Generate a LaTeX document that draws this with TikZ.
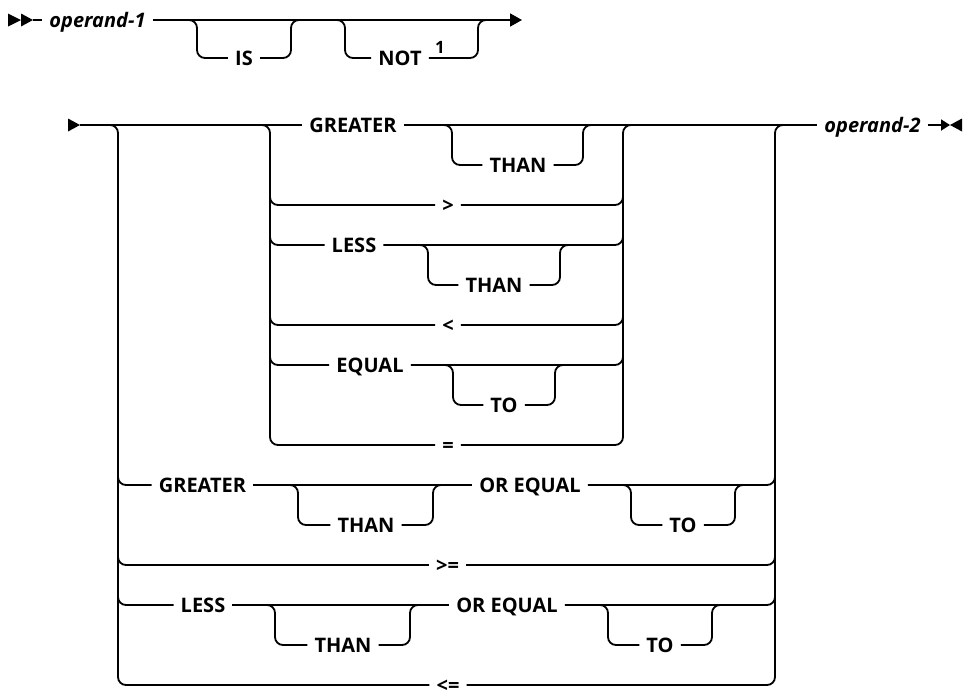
\documentclass[tikz,border=0pt]{standalone}
\usepackage{fontspec}
\newfontfamily\lblfont{Open Sans}
\usetikzlibrary{calc,arrows.meta}
\newcommand\obranch[3]{%
  \draw[br] ($(#1)+(-8,0)$) -- (#1) -- (#1 |- #3) -- (#3.west);
  \draw[br] (#3.east) -- (#2 |- #3) -- (#2) -- ($(#2)+(8,0)$);}
\newcommand\rowin[2]{\draw[br] ($(#1 |- #2)+(0,-8)$) -- (#1 |- #2) -- (#2.west);}
\newcommand\rowout[2]{\draw[br] (#2.east) -- (#1 |- #2) -- ($(#1 |- #2)+(0,-8)$);}
\begin{document}
\begin{tikzpicture}[x=1pt,y=-1pt,
  ln/.style={line width=1.8pt},
  br/.style={ln,rounded corners=8pt},
  kw/.style={font=\lblfont\bfseries\fontsize{20}{24}\selectfont,inner xsep=7pt,inner ysep=0pt,
    text height=14.3pt,text depth=0pt,anchor=center},
  var/.style={kw,font=\lblfont\bfseries\itshape\fontsize{20}{24}\selectfont},
  supx/.style={font=\lblfont\bfseries\fontsize{17}{20}\selectfont,inner sep=0pt,
    text height=12.2pt,text depth=0pt,anchor=center}]
\useasboundingbox (0,0) rectangle (965,696);

% ---------- first line ----------
\node[var] (op1) at (97.5,20) {operand-1};
\coordinate (st1) at (33,20);
\fill (8,13.5) -- (21,20) -- (8,26.5) -- cycle;
\fill (21,13.5) -- (33,20) -- (21,26.5) -- cycle;
\draw[ln] (st1) -- (op1.west);
\coordinate (end1) at (522,20);
\draw[ln,-{Triangle[length=12pt,width=13pt]}] (op1.east) -- (end1);

\node[kw] (is) at (244,58) {IS};
\coordinate (isL) at (197,20); \coordinate (isR) at (291,20);
\obranch{isL}{isR}{is}

\node[kw] (not) at (400,58) {NOT};
\node[supx] (n1) at (440,47) {1};
\coordinate (notL) at (345,20); \coordinate (notR) at (478,20);
\obranch{notL}{notR}{not}

% ---------- second line ----------
\coordinate (st2) at (80,125);
\fill (68,118.5) -- (80,125) -- (68,131.5) -- cycle;
\coordinate (oL) at (118,125);
\coordinate (iL) at (270,125);
\coordinate (iR) at (623,125);
\coordinate (oR) at (775,125);

\node[kw] (gt1) at (353,125) {GREATER};
\node[var] (op2) at (872.5,125) {operand-2};
\draw[ln] (st2) -- (gt1.west);
\draw[ln] (gt1.east) -- (op2.west);
\node[kw] (than1) at (518,165) {THAN};
\coordinate (t1L) at (452,125); \coordinate (t1R) at (583,125);
\obranch{t1L}{t1R}{than1}

\node[kw] (gtc) at (448,205) {>};
\rowin{iL}{gtc} \rowout{iR}{gtc}

\node[kw] (ls1) at (354,245) {LESS};
\rowin{iL}{ls1} \rowout{iR}{ls1}
\node[kw] (than2) at (494,285) {THAN};
\coordinate (t2L) at (428,245); \coordinate (t2R) at (560,245);
\obranch{t2L}{t2R}{than2}

\node[kw] (ltc) at (448,325) {<};
\rowin{iL}{ltc} \rowout{iR}{ltc}

\node[kw] (eq1) at (370,365) {EQUAL};
\rowin{iL}{eq1} \rowout{iR}{eq1}
\node[kw] (to1) at (504,405) {TO};
\coordinate (t3L) at (453,365); \coordinate (t3R) at (555,365);
\obranch{t3L}{t3R}{to1}

\node[kw] (eqc) at (448,445) {=};
\draw[br] ($(iL)+(-8,0)$) -- (iL) -- (iL |- eqc) -- (eqc.west);
\draw[br] (eqc.east) -- (iR |- eqc) -- (iR) -- ($(iR)+(8,0)$);

% outer alternatives
\node[kw] (gt2) at (202.5,485) {GREATER};
\node[kw] (oe1) at (530,485) {OR EQUAL};
\node[kw] (than3) at (366,525) {THAN};
\node[kw] (to2) at (683,525) {TO};
\rowin{oL}{gt2}
\draw[ln] (gt2.east) -- (oe1.west);
\rowout{oR}{oe1}
\coordinate (t4L) at (298,485); \coordinate (t4R) at (433,485);
\obranch{t4L}{t4R}{than3}
\coordinate (t5L) at (631,485); \coordinate (t5R) at (735,485);
\obranch{t5L}{t5R}{to2}

\node[kw] (gec) at (447.5,565) {>=};
\rowin{oL}{gec} \rowout{oR}{gec}

\node[kw] (ls2) at (203,605) {LESS};
\node[kw] (oe2) at (507,605) {OR EQUAL};
\node[kw] (than4) at (343,645) {THAN};
\node[kw] (to3) at (660,645) {TO};
\rowin{oL}{ls2}
\draw[ln] (ls2.east) -- (oe2.west);
\rowout{oR}{oe2}
\coordinate (t6L) at (275,605); \coordinate (t6R) at (410,605);
\obranch{t6L}{t6R}{than4}
\coordinate (t7L) at (608,605); \coordinate (t7R) at (712,605);
\obranch{t7L}{t7R}{to3}

\node[kw] (lec) at (448,685) {<=};
\draw[br] ($(oL)+(-8,0)$) -- (oL) -- (oL |- lec) -- (lec.west);
\draw[br] (lec.east) -- (oR |- lec) -- (oR) -- ($(oR)+(8,0)$);

% end symbol
\coordinate (end2) at (950,125);
\draw[ln,-{Triangle[length=9pt,width=11pt]}] (op2.east) -- (end2);
\fill (962,118.5) -- (950,125) -- (962,131.5) -- cycle;
\end{tikzpicture}
\end{document}
